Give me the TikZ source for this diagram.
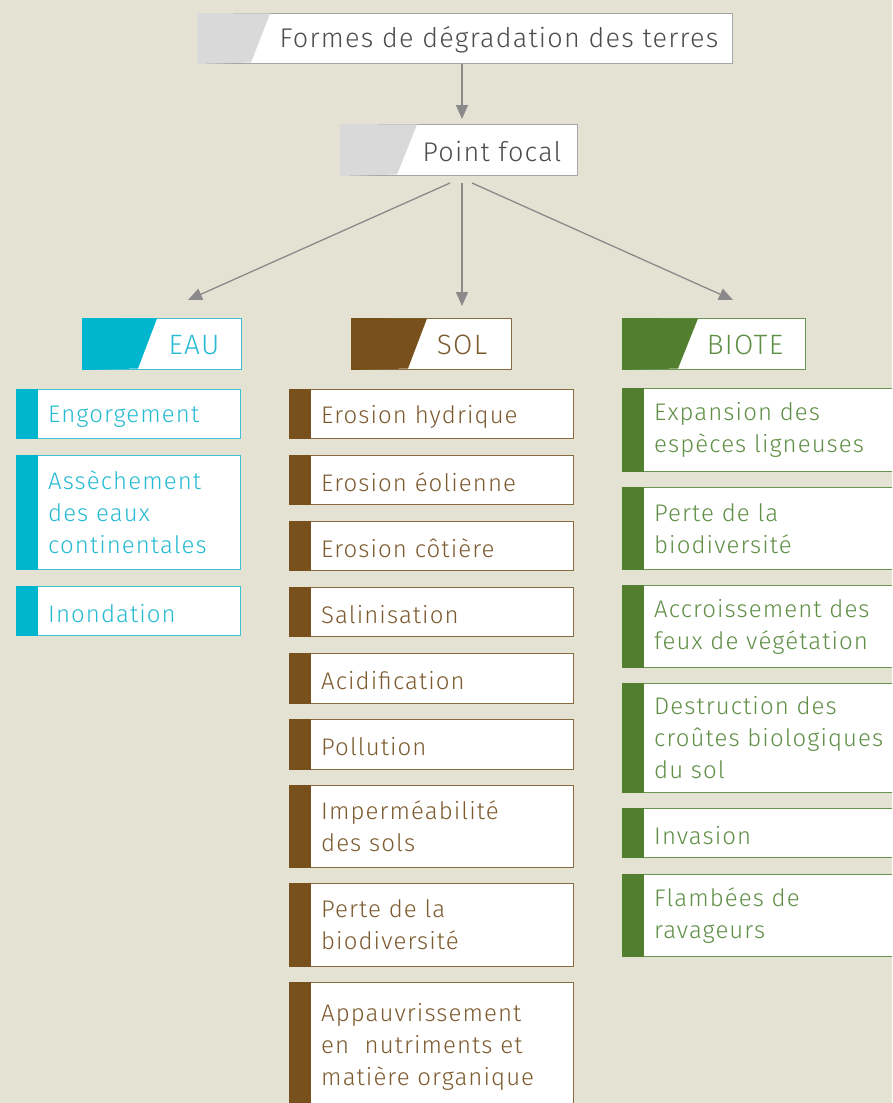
\documentclass[tikz,border=0pt]{standalone}
\usepackage{fontspec}
\setmainfont{Fira Sans Light}[LetterSpace=4.5]
\usetikzlibrary{arrows.meta}
\definecolor{bg}{HTML}{E4E2D3}
\definecolor{grayfill}{HTML}{D9D9D9}
\definecolor{grayborder}{HTML}{A6A6A6}
\definecolor{graytext}{HTML}{4D4D4D}
\definecolor{arrowgray}{HTML}{8A8A8A}
\definecolor{cyanfill}{HTML}{00B5CE}
\definecolor{cyantext}{HTML}{26BBD2}
\definecolor{cyanborder}{HTML}{3EC0D5}
\definecolor{brownfill}{HTML}{77501C}
\definecolor{browntext}{HTML}{7D5A2E}
\definecolor{brownborder}{HTML}{8A6A3F}
\definecolor{greenfill}{HTML}{527F2F}
\definecolor{greentext}{HTML}{5F8F45}
\definecolor{greenborder}{HTML}{6B9650}
\newcommand{\itemfont}{\fontsize{24}{32}\selectfont}
\newcommand{\headfont}{\fontsize{28}{32}\selectfont}
\newcommand{\Item}[8]{%
  \node[itembox, draw=#6border, anchor=north west,
        minimum width=#4-#2, minimum height=#5-#3] (#1) at (#2,#3) {};
  \fill[#6fill] (#1.north west) rectangle ([xshift=22pt]#1.south west);
  \node[itemtext, text=#6text] (#1t) at ([xshift=32pt,yshift=#8]#1.west) {#7};
}
\tikzset{
  itembox/.style={fill=white, line width=1pt, inner sep=0pt},
  itemtext/.style={anchor=west, align=left, font=\itemfont, inner sep=0pt},
  headbox/.style={fill=white, line width=1pt, inner sep=0pt, anchor=north west},
  headtext/.style={font=\headfont, inner sep=0pt},
  link/.style={draw=arrowgray, line width=1.3pt, -{Triangle[length=14pt,width=12pt]}}
}
\begin{document}
\begin{tikzpicture}[x=1pt,y=-1pt]
\fill[bg] (0,0) rectangle (892,1103);
\useasboundingbox (0,0) rectangle (892,1103);
\clip (0,0) rectangle (892,1103);
% title
\node[headbox, draw=grayborder, minimum width=535, minimum height=50] (title) at (197,13) {};
\fill[grayfill] (title.north west) -- (270,13.5) -- (251,62.5) -- (title.south west) -- cycle;
\node[headtext, text=graytext, font=\fontsize{27}{32}\selectfont] (titlet) at (499,40) {Formes de dégradation des terres};
% point focal
\node[headbox, draw=grayborder, minimum width=237, minimum height=51] (pf) at (340,124) {};
\fill[grayfill] (pf.north west) -- (417,124.5) -- (397,174.5) -- (pf.south west) -- cycle;
\node[headtext, text=graytext, font=\fontsize{27}{32}\selectfont] (pft) at (492,151) {Point focal};
% categories
\node[headbox, draw=cyanborder, minimum width=159, minimum height=51] (eau) at (82,318) {};
\fill[cyanfill] (eau.north west) -- (157,318.5) -- (138,368.5) -- (eau.south west) -- cycle;
\node[headtext, text=cyantext] (eaut) at (194,345) {EAU};
\node[headbox, draw=brownborder, minimum width=160, minimum height=51] (sol) at (351,318) {};
\fill[brownfill] (sol.north west) -- (427,318.5) -- (408,368.5) -- (sol.south west) -- cycle;
\node[headtext, text=browntext] (solt) at (462,345) {SOL};
\node[headbox, draw=greenborder, minimum width=183, minimum height=51] (biote) at (622,318) {};
\fill[greenfill] (biote.north west) -- (698,318.5) -- (678,368.5) -- (biote.south west) -- cycle;
\node[headtext, text=greentext] (biotet) at (745,345) {BIOTE};
% arrows
\coordinate (axis) at (462,0);
\coordinate (sL) at (450,183);
\coordinate (sC) at (462,183);
\coordinate (sR) at (472,183);
\coordinate (aE) at (188,300);
\coordinate (aS) at (462,306);
\coordinate (aB) at (733,300);
\draw[link, shorten >=5pt] (title.south -| axis) -- (pf.north -| axis);
\draw[link] (sL) -- (aE);
\draw[link] (sC) -- (aS);
\draw[link] (sR) -- (aB);
% EAU items
\Item{e1}{16}{389}{240}{438}{cyan}{Engorgement}{-2.5pt}
\Item{e2}{16}{455}{240}{569}{cyan}{Assèchement\\des eaux\\continentales}{0pt}
\Item{e3}{16}{586}{240}{635}{cyan}{Inondation}{-2.5pt}
% SOL items
\Item{s1}{289}{389}{573}{438}{brown}{Erosion hydrique}{-2.5pt}
\Item{s2}{289}{455}{573}{504}{brown}{Erosion éolienne}{-2.5pt}
\Item{s3}{289}{521}{573}{570}{brown}{Erosion côtière}{-2.5pt}
\Item{s4}{289}{587}{573}{636}{brown}{Salinisation}{-2.5pt}
\Item{s5}{289}{653}{573}{703}{brown}{Acidification}{-2.5pt}
\Item{s6}{289}{719}{573}{769}{brown}{Pollution}{-2.5pt}
\Item{s7}{289}{785}{573}{867}{brown}{Imperméabilité\\des sols}{0pt}
\Item{s8}{289}{883}{573}{966}{brown}{Perte de la\\biodiversité}{0pt}
\Item{s9}{289}{982}{573}{1110}{brown}{Appauvrissement\\en\ \ nutriments et\\matière organique}{0pt}
% BIOTE items
\Item{b1}{622}{388}{900}{471}{green}{Expansion des\\espèces ligneuses}{0pt}
\Item{b2}{622}{487}{900}{569}{green}{Perte de la\\biodiversité}{0pt}
\Item{b3}{622}{585}{900}{667}{green}{Accroissement des\\feux de végétation}{0pt}
\Item{b4}{622}{683}{900}{792}{green}{Destruction des\\croûtes biologiques\\du sol}{0pt}
\Item{b5}{622}{808}{900}{857}{green}{Invasion}{-2.5pt}
\Item{b6}{622}{874}{900}{956}{green}{Flambées de\\ravageurs}{0pt}
\end{tikzpicture}
\end{document}
